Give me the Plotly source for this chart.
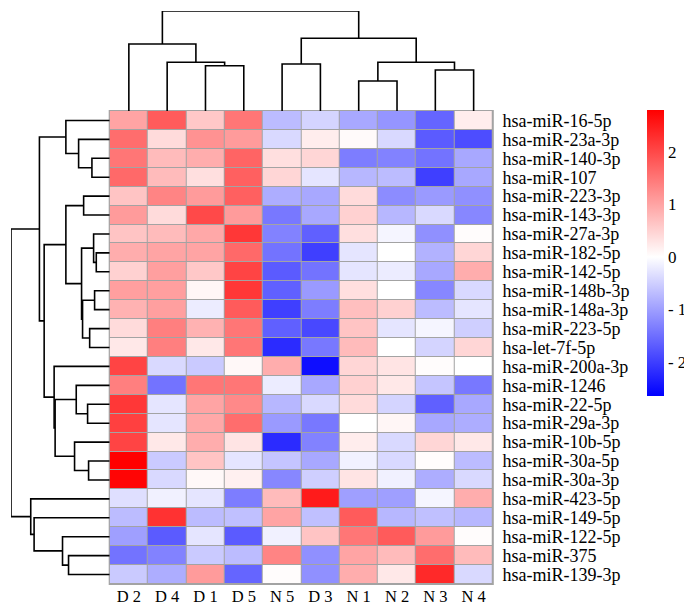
import plotly.graph_objects as go

# ---------------- data ----------------
samples = ["D 2", "D 4", "D 1", "D 5", "N 5", "D 3", "N 1", "N 2", "N 3", "N 4"]
mirnas = [
    "hsa-miR-16-5p", "hsa-miR-23a-3p", "hsa-miR-140-3p", "hsa-miR-107",
    "hsa-miR-223-3p", "hsa-miR-143-3p", "hsa-miR-27a-3p", "hsa-miR-182-5p",
    "hsa-miR-142-5p", "hsa-miR-148b-3p", "hsa-miR-148a-3p", "hsa-miR-223-5p",
    "hsa-let-7f-5p", "hsa-miR-200a-3p", "hsa-miR-1246", "hsa-miR-22-5p",
    "hsa-miR-29a-3p", "hsa-miR-10b-5p", "hsa-miR-30a-5p", "hsa-miR-30a-3p",
    "hsa-miR-423-5p", "hsa-miR-149-5p", "hsa-miR-122-5p", "hsa-miR-375",
    "hsa-miR-139-3p",
]
# z-scores, rows follow mirnas, columns follow samples
expression = [
    [1.00, 1.80, 0.60, 1.50, -0.70, -0.45, -0.90, -1.10, -1.60, 0.20],
    [1.60, 0.40, 1.20, 1.10, -0.40, 0.20, 0.05, -0.40, -1.70, -1.85],
    [1.50, 0.75, 0.90, 1.70, 0.35, 0.45, -1.35, -1.30, -1.45, -0.90],
    [1.65, 0.75, 0.35, 1.75, 0.45, -0.27, -0.75, -0.70, -2.00, -0.90],
    [0.65, 1.35, 1.10, 1.75, -0.85, -0.90, 0.40, -1.20, -1.05, -1.15],
    [1.10, 0.40, 2.00, 1.10, -1.40, -0.90, 0.50, -0.75, -0.40, -1.25],
    [0.65, 0.75, 0.95, 2.20, -1.30, -1.65, 0.35, -0.10, -1.15, 0.03],
    [0.90, 1.00, 1.00, 1.65, -1.45, -2.00, -0.27, 0.00, -0.80, 0.45],
    [0.50, 1.05, 0.60, 2.05, -1.70, -1.45, -0.27, -0.20, -0.90, 0.90],
    [1.05, 1.05, 0.10, 2.20, -1.65, -1.05, 0.35, 0.00, -1.25, -0.40],
    [0.85, 1.05, -0.20, 1.80, -2.00, -1.35, 0.70, 0.50, -0.70, -0.27],
    [0.40, 1.40, 0.85, 1.50, -1.65, -1.90, 0.65, -0.27, -0.10, -0.50],
    [0.25, 1.40, 0.25, 1.50, -2.20, -1.40, 0.75, 0.00, -0.45, 0.45],
    [2.05, -0.40, -0.55, 0.08, 0.90, -2.50, 0.45, 0.30, 0.03, 0.00],
    [1.40, -1.45, 1.50, 1.50, -0.20, -0.90, 0.50, 0.25, -0.60, -1.40],
    [2.20, -0.27, 1.00, 1.30, -0.75, -0.40, 0.40, -0.45, -1.65, -0.90],
    [2.10, -0.27, 0.95, 1.60, -1.05, -1.40, 0.00, 0.10, -0.90, -0.85],
    [2.05, 0.25, 0.90, 0.30, -2.20, -1.30, 0.20, -0.40, 0.45, 0.25],
    [2.80, -0.55, 0.65, -0.27, -0.60, -0.90, -0.15, -0.40, 0.03, -0.70],
    [2.75, -0.40, 0.08, 0.17, -1.25, -0.50, 0.30, -0.15, -0.85, -0.40],
    [-0.33, -0.15, -0.27, -1.35, 0.75, 2.50, -1.00, -1.00, -0.10, 0.90],
    [-0.70, 2.25, -0.70, -0.65, 1.00, -0.65, 1.80, -0.75, -0.65, -0.75],
    [-1.00, -1.70, -0.27, -1.70, -0.15, 0.65, 1.50, 1.80, 1.10, 0.03],
    [-1.45, -1.30, -0.55, -0.70, 1.35, -1.15, 1.00, 0.75, 1.60, 0.75],
    [-0.55, -0.85, 1.10, -1.60, 0.03, -1.15, 0.90, 0.25, 2.35, -0.40],
]
# hierarchical clustering merges: (left, right, relative height)
# leaves are indices in display order, merged clusters get n, n+1, ...
col_merges = [
    (2, 3, 0.453), (1, 10, 0.487), (0, 11, 0.670),
    (6, 7, 0.300), (8, 9, 0.410), (4, 5, 0.470),
    (13, 14, 0.487), (15, 16, 0.727), (12, 17, 1.000),
]
row_merges = [
    (2, 3, 0.180), (1, 25, 0.315), (0, 26, 0.444),
    (4, 5, 0.264), (7, 8, 0.136), (6, 29, 0.163),
    (9, 10, 0.153), (11, 12, 0.203), (31, 32, 0.275),
    (30, 33, 0.285), (28, 34, 0.444),
    (15, 16, 0.224), (14, 36, 0.339), (18, 19, 0.214),
    (17, 38, 0.356), (37, 39, 0.553), (13, 40, 0.563),
    (35, 41, 0.664), (27, 42, 0.712),
    (23, 24, 0.417), (22, 44, 0.478), (21, 45, 0.766),
    (20, 46, 0.800), (43, 47, 1.000),
]
z_min, z_max = -2.65, 2.8
cbar_ticks = [-2, -1, 0, 1, 2]
cbar_labels = ["- 2", "- 1", "0", "1", "2"]


def dendro(merges, n):
    pos = [float(i) for i in range(n)]
    hgt = [0.0] * n
    p, h = [], []
    for a, b, m in merges:
        p += [pos[a], pos[a], pos[b], pos[b], None]
        h += [hgt[a], m, m, hgt[b], None]
        pos.append((pos[a] + pos[b]) / 2)
        hgt.append(m)
    return p, h


W, H = 692, 606
hx0, hx1 = 101.7 / W, 484.8 / W
hy0, hy1 = 1 - 576.0 / H, 1 - 103.0 / H
font = "Liberation Serif"

fig = go.Figure()
fig.add_trace(go.Heatmap(
    z=expression, x=list(range(len(samples))), y=list(range(len(mirnas))),
    zmin=z_min, zmax=z_max,
    colorscale=[[0, "rgb(0,0,255)"], [-z_min / (z_max - z_min), "rgb(255,255,255)"], [1, "rgb(255,0,0)"]],
    xgap=1, ygap=1, xaxis="x", yaxis="y",
    colorbar=dict(
        x=639 / W, xanchor="left", xpad=0, y=1 - 102.0 / H, yanchor="top", ypad=0,
        len=(388 - 102) / H, lenmode="fraction", thickness=17, thicknessmode="pixels",
        outlinewidth=0, tickvals=cbar_ticks, ticktext=cbar_labels,
        ticks="", ticklen=0,
        tickfont=dict(family=font, size=17, color="black"),
    ),
    hoverinfo="skip",
))

cp, ch = dendro(col_merges, len(samples))
fig.add_trace(go.Scatter(x=cp, y=ch, mode="lines", line=dict(color="black", width=1.6),
                         xaxis="x2", yaxis="y2", cliponaxis=False, hoverinfo="skip", showlegend=False))
rp, rh = dendro(row_merges, len(mirnas))
fig.add_trace(go.Scatter(x=rh, y=rp, mode="lines", line=dict(color="black", width=1.6),
                         xaxis="x3", yaxis="y3", cliponaxis=False, hoverinfo="skip", showlegend=False))

fig.add_shape(type="rect", xref="x domain", yref="y domain", x0=0, x1=1, y0=0, y1=1,
              fillcolor="#a3a3a3", line=dict(color="#a3a3a3", width=2), layer="below")

fig.update_layout(
    width=W, height=H, margin=dict(l=0, r=0, t=0, b=0),
    paper_bgcolor="white", plot_bgcolor="white", showlegend=False,
    font=dict(family=font, color="black"),
    xaxis=dict(domain=[hx0, hx1], range=[-0.5, len(samples) - 0.5], tickvals=list(range(len(samples))),
               ticktext=samples, showgrid=False, zeroline=False, showline=False,
               ticks="",
               tickfont=dict(family=font, size=16.5, color="black"), anchor="y"),
    yaxis=dict(domain=[hy0, hy1], range=[len(mirnas) - 0.5, -0.5], tickvals=list(range(len(mirnas))),
               ticktext=mirnas, side="right", showgrid=False, zeroline=False, showline=False,
               ticks="outside", ticklen=5, tickcolor="rgba(0,0,0,0)",
               tickfont=dict(family=font, size=18, color="black"), anchor="x"),
    xaxis2=dict(domain=[hx0, hx1], range=[-0.5, len(samples) - 0.5], visible=False, anchor="y2"),
    yaxis2=dict(domain=[hy1, 1 - 3.0 / H], range=[0, 1], visible=False, anchor="x2"),
    xaxis3=dict(domain=[3.0 / W, hx0], range=[1, 0], visible=False, anchor="y3"),
    yaxis3=dict(domain=[hy0, hy1], range=[len(mirnas) - 0.5, -0.5], visible=False, anchor="x3"),
)

fig.write_html("out.html")
